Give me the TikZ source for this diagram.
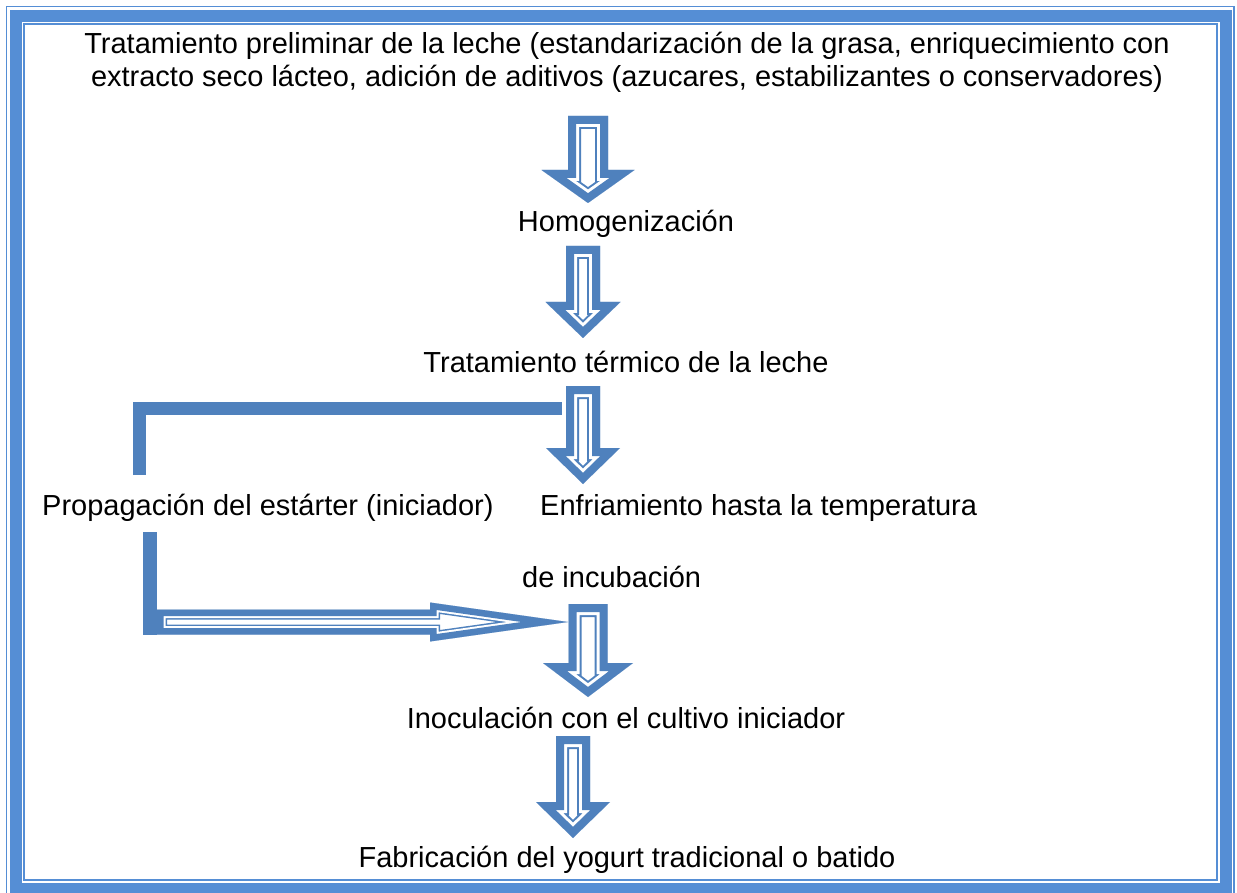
\documentclass[tikz,border=0pt]{standalone}
\usepackage{fontspec}
\setmainfont{Liberation Sans}
\usepackage{tikz}
\usetikzlibrary{calc}

\definecolor{flowblue}{RGB}{79,129,189}
\definecolor{frameblue}{RGB}{85,142,213}

\tikzset{
  outerw/.store in=\outerw, gapw/.store in=\gapw, innerw/.store in=\innerw,
  outerw=26pt, gapw=22pt, innerw=16pt,
  pics/hollowarrow/.style n args={4}{code={
    \clip (0,-#3) -- (#2,-#3) -- (#2,-#4) -- (#1,0) -- (#2,#4) -- (#2,#3) -- (0,#3) -- cycle;
    \draw[line join=miter, miter limit=20,
          preaction={draw=flowblue, line width=\outerw},
          preaction={draw=white, line width=\gapw},
          draw=flowblue, line width=\innerw]
      (0,-#3) -- (#2,-#3) -- (#2,-#4) -- (#1,0) -- (#2,#4) -- (#2,#3) -- (0,#3) -- cycle;
  }}
}

\begin{document}
\begin{tikzpicture}[
    x=1pt, y=-1pt,
    txt/.style={font=\fontsize{29}{33}\selectfont, inner sep=0pt, align=center},
    feedbar/.style={draw=flowblue, line width=13pt, line join=miter}
]
\useasboundingbox (0,0) rectangle (1237,893);

% page frame
\draw[frameblue, line width=1.5pt] (6.5,6.5) rectangle (1234,900);
\draw[frameblue, line width=12pt] (16,16) rectangle (1226,889);
\draw[frameblue, line width=2pt] (24,24) rectangle (1217,880);

\node[txt, anchor=base] (title) at (627,87) {Tratamiento preliminar de la leche (estandarización de la grasa, enriquecimiento con\\extracto seco lácteo, adición de aditivos (azucares, estabilizantes o conservadores)};
\node[txt, anchor=base] (homog) at (626,232) {Homogenización};
\node[txt, anchor=base] (termico) at (626,372) {Tratamiento térmico de la leche};
\node[txt, anchor=base west] (prop) at (42,515) {Propagación del estárter (iniciador)};
\node[txt, anchor=base west] (enfr) at (540,515) {Enfriamiento hasta la temperatura};
\node[txt, anchor=base west] (incub) at (522,587) {de incubación};
\node[txt, anchor=base] (inoc) at (626,728) {Inoculación con el cultivo iniciador};
\node[txt, anchor=base] (fabr) at (627,867) {Fabricación del yogurt tradicional o batido};

% main chain
\pic[rotate=-90] at ($(title.base)+(-39,29)$) {hollowarrow={87}{54}{20}{46.5}};
\pic[rotate=-90] at ($(homog.base)+(-43,14)$) {hollowarrow={92}{56}{17}{37.5}};
\pic[rotate=-90] at ($(termico.base)+(-43,14)$) {hollowarrow={98}{62}{17}{37}};
\pic[rotate=-90] at ($(incub.base west)+(66,17)$) {hollowarrow={93}{59}{19.5}{45}};
\pic[rotate=-90] at ($(inoc.base)+(-53,8)$) {hollowarrow={102}{66}{17}{37}};

% starter branch
\coordinate (propup) at ($(prop.base west)+(97.5,-40)$);
\coordinate (coolin) at ($(termico.base)+(-64,36.5)$);
\draw[feedbar] (propup) |- (coolin);

\coordinate (propdown) at ($(prop.base west)+(108,17)$);
\coordinate (propcorner) at ($(prop.base west)+(108,120)$);
\draw[feedbar, line width=14pt] (propdown) -- (propcorner);
\pic[outerw=20pt, gapw=17pt, innerw=13pt] at ($(prop.base west)+(115,107)$) {hollowarrow={411}{273}{12.5}{19.5}};

\end{tikzpicture}
\end{document}
